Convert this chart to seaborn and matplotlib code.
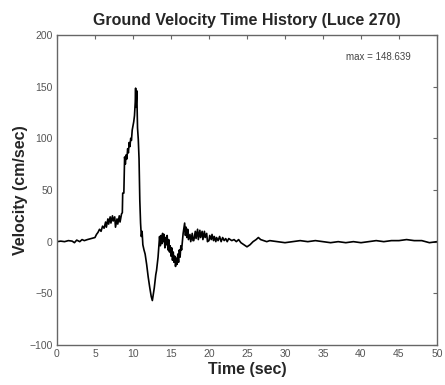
import matplotlib
matplotlib.use("Agg")
import matplotlib.pyplot as plt
import numpy as np
import pandas as pd
import seaborn as sns

# time (sec) and ground velocity (cm/sec)
time = [0, 0.5, 1, 1.5, 2, 2.3, 2.6, 3, 3.3, 3.6, 4, 4.5, 5,
        5.2, 5.4, 5.6, 5.8, 6.0, 6.2, 6.4, 6.5, 6.7, 6.8, 7.0, 7.1, 7.3, 7.4,
        7.6, 7.7, 7.9, 8.0, 8.2, 8.3, 8.5, 8.6, 8.65, 8.8, 8.9,
        9.0, 9.1, 9.2, 9.3, 9.4, 9.5, 9.6, 9.7, 9.8, 9.9, 10.0, 10.1, 10.2,
        10.3, 10.35, 10.4, 10.5, 10.6, 10.7, 10.8, 10.9, 11.0, 11.1, 11.2, 11.3,
        11.45, 11.6, 11.8, 12.0, 12.2, 12.4, 12.55, 12.65, 12.8, 13.0, 13.1,
        13.3, 13.5, 13.6, 13.7, 13.8, 13.9, 14.0, 14.1, 14.2, 14.3, 14.4, 14.5,
        14.6, 14.7, 14.8, 14.9, 15.0, 15.1, 15.2, 15.3, 15.4, 15.5, 15.6, 15.7,
        15.8, 15.9, 16.0, 16.1, 16.2, 16.3, 16.4, 16.6, 16.8, 16.9, 17.0, 17.1,
        17.2, 17.3, 17.5, 17.6, 17.8, 17.9, 18.0, 18.2, 18.3, 18.5, 18.6, 18.8,
        18.9, 19.1, 19.2, 19.4, 19.5, 19.7, 19.8, 20.0, 20.1, 20.3, 20.4, 20.6,
        20.7, 20.9, 21.0, 21.2, 21.4, 21.6, 21.8, 22.0, 22.2, 22.4, 22.6, 22.8,
        23.0, 23.3, 23.6, 23.9, 24.2, 24.6, 25.0, 25.4, 25.8, 26.2, 26.5, 26.8,
        27.2, 27.6, 28, 29, 30, 31, 32, 33, 34, 35, 36, 37, 38, 39, 40, 41, 42,
        43, 44, 45, 46, 47, 48, 49, 50]
velocity = [0, 0.5, 0, 1, 0.5, -1, 1.5, 0, 2, 1, 2, 3, 4,
            7, 9, 12, 10, 15, 13, 19, 14, 22, 17, 24, 18, 25, 20,
            24, 14, 22, 17, 25, 19, 27, 28, 47, 47, 82,
            75, 84, 80, 90, 86, 96, 92, 100, 98, 108, 112, 116, 122,
            135, 148.6, 130, 146, 110, 99, 80, 40, 18, 5, 10, -3,
            -8, -12, -22, -34, -44, -53, -57, -52, -45, -32, -28,
            -15, 5, -4, 6, -2, 8, 0, 7, -6, 4, -3, 6,
            -8, 2, -10, -4, -14, -6, -18, -10, -20, -14, -24, -16,
            -22, -12, -20, -8, -15, -4, -8, 8, 18, 6, 14, 4,
            12, 2, 7, 0, 8, 1, 1, 10, 3, 12, 2, 11,
            4, 10, 2, 10, 4, 8, 0, 1, 6, 2, 7, 1,
            5, 0, 4, 1, 5, 0, 4, 1, 3, 0, 3, 2,
            1, 2, 0, 2, -1, -3, -5, -3, 0, 2, 4, 2,
            1, 0, 1, 0, -1, 0, 1, 0, 1, 0, -1, 0, -1, 0, -1, 0, 1,
            0, 1, 1, 2, 1, 1, -1, 0]

x_ticks = list(range(0, 51, 5))
y_ticks = list(range(-100, 201, 50))
peak_label = "max = 148.639"

df = pd.DataFrame({"t": time, "v": velocity})

sns.set_style("white")
plt.rcParams["font.family"] = ["Liberation Sans", "DejaVu Sans"]

fig = plt.figure(figsize=(4.45, 3.85), dpi=100)
ax = fig.add_axes([0.128, 0.104, 0.854, 0.805])

sns.lineplot(data=df, x="t", y="v", color="black", linewidth=1.2, ax=ax)

ax.set_xlim(0, 50)
ax.set_ylim(-100, 200)
ax.set_xticks(x_ticks)
ax.set_yticks(y_ticks)
ax.tick_params(direction="in", length=3, top=True, right=True,
               labelsize=7.5, labelcolor="#555555", color="#666666", pad=3)
for s in ax.spines.values():
    s.set_color("#666666")
    s.set_linewidth(1.0)

ax.set_title("Ground Velocity Time History (Luce 270)", fontsize=11.5,
             fontweight="bold", pad=7)
ax.set_xlabel("Time (sec)", fontsize=11.5, fontweight="bold", labelpad=2)
ax.set_ylabel("Velocity (cm/sec)", fontsize=11.5, fontweight="bold", labelpad=1)
ax.text(46.5, 179, peak_label, fontsize=7, color="#444444", ha="right", va="center")

fig.savefig("out.png", dpi=100)
